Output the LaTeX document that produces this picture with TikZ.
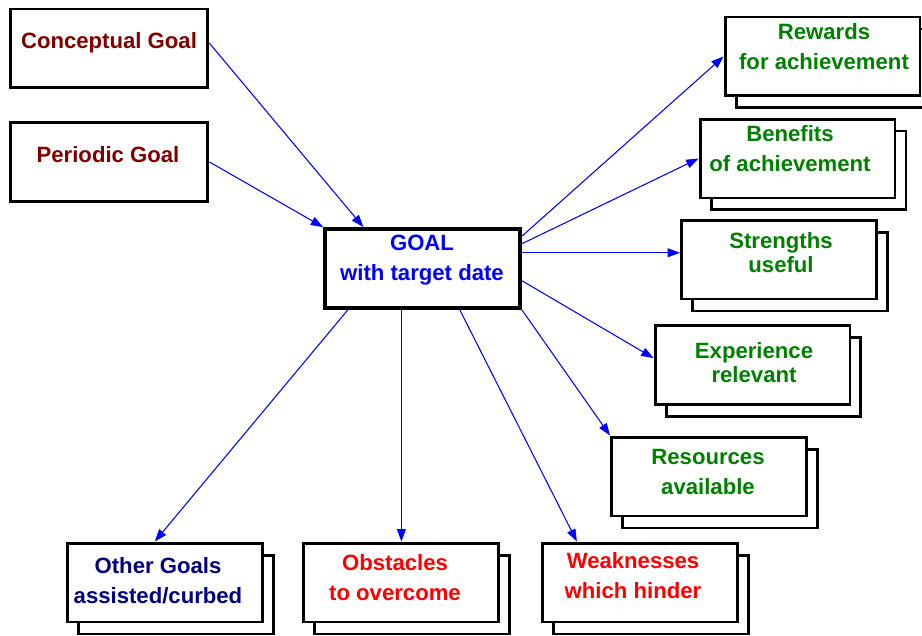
\documentclass[tikz,border=0pt]{standalone}
\usepackage{fontspec}
\setmainfont{Liberation Sans}
\usetikzlibrary{arrows.meta,shadows}

\definecolor{maroon}{RGB}{128,0,0}
\definecolor{leafgreen}{RGB}{0,128,0}
\definecolor{navyblue}{RGB}{0,0,128}

\tikzset{
  card/.style={draw, fill=white, line width=1.7pt, minimum width=3.9cm,
               minimum height=1.58cm, inner sep=0pt},
  stack/.style={card, general shadow={shadow xshift=0.22cm, shadow yshift=-0.24cm,
               draw=black, fill=white, line width=1.7pt}},
  words/.style={align=center, font=\bfseries\fontsize{12.6}{17}\selectfont},
  tight/.style={font=\bfseries\fontsize{12.6}{13.6}\selectfont},
  link/.style={->, blue, line width=0.6pt}
}

\begin{document}
\begin{tikzpicture}[x=0.02cm,y=-0.02cm,>={Triangle[length=7pt,width=5pt]}]
    \useasboundingbox (0,0) rectangle (922,635);

    % where the goal comes from
    \node [card, minimum width=3.96cm] (concept) at (109,48.5) {};
    \node [words, maroon] (conceptlbl) at (109,43) {Conceptual Goal};
    \node [card, minimum width=3.96cm] (periodic) at (109,162) {};
    \node [words, maroon] (periodiclbl) at (108,155) {Periodic Goal};

    \node [card, line width=2.2pt] (goal) at (422.5,268.5) {};
    \node [words, blue] (goallbl) at (422,260.5) {GOAL\\with target date};

    % right hand side
    \node [stack] (rewards) at (822.5,56.5) {};
    \node [words, leafgreen] (rewardslbl) at (824,47) {Rewards\\for achievement};
    \node [stack] (benefits) at (797.5,158.5) {};
    \node [words, leafgreen] (benefitslbl) at (790,149) {Benefits\\of achievement};
    \node [stack] (strengths) at (779,259.5) {};
    \node [words, tight, leafgreen] (strengthslbl) at (781,253) {Strengths\\useful};
    \node [stack] (experience) at (752.5,365) {};
    \node [words, tight, leafgreen] (experiencelbl) at (754,363) {Experience\\relevant};
    \node [stack] (resources) at (709,476.5) {};
    \node [words, leafgreen] (resourceslbl) at (708,472) {Resources\\available};

    % bottom row
    \node [stack] (other) at (165,582.5) {};
    \node [words, navyblue] (otherlbl) at (158,580.5) {Other Goals\\assisted/curbed};
    \node [stack] (obstacles) at (401,582.5) {};
    \node [words, red] (obstacleslbl) at (395,578) {Obstacles\\to overcome};
    \node [stack] (weak) at (640,582.5) {};
    \node [words, red] (weaklbl) at (633,576) {Weaknesses\\which hinder};

    \draw [link] (concept.3) -- (goal.145);
    \draw [link] (periodic.east) -- (goal.north west);
    \draw [link] (goal.18) -- (rewards.west);
    \draw [link] (goal.14) -- (benefits.west);
    \draw [link] (goal.9) -- (goal.9 -| strengths.west);
    \draw [link] (goal.-7) -- (experience.176);
    \draw [link] (goal.south east) -- (resources.north west);
    \draw [link] (goal.-48) -- (weak.147);
    \draw [link] (goal.-117) -- (goal.-117 |- obstacles.north);
    \draw [link] (goal.209) -- (other.104);
\end{tikzpicture}
\end{document}
